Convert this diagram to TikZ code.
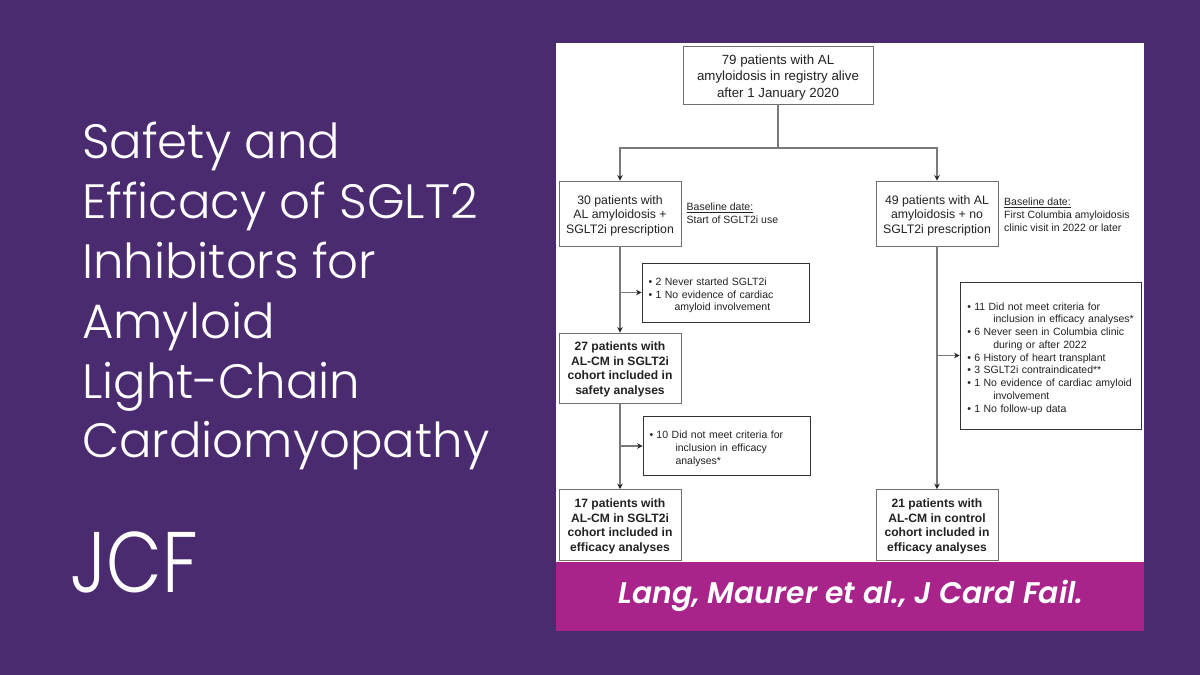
\documentclass[tikz,border=0pt]{standalone}
\usepackage{fontspec}
\setmainfont{Liberation Sans}
\newfontfamily\titlefont[UprightFont=* Light,BoldFont=* SemiBold,ItalicFont=* Light Italic,BoldItalicFont=* SemiBold Italic]{Poppins}
\usetikzlibrary{arrows.meta,calc}
\definecolor{bgpurple}{HTML}{4B2B70}
\definecolor{banner}{HTML}{A8248A}
\definecolor{linegray}{HTML}{707070}
\definecolor{conngray}{HTML}{7A7A7A}
\definecolor{textgray}{HTML}{222222}
\tikzset{
 x=1pt,y=-1pt,
 flowbox/.style={draw=linegray,line width=0.9pt,fill=white,inner sep=0pt,align=center,text=textgray},
 mainbox/.style={flowbox,text height=42.4pt,font=\fontsize{12.3}{14.7}\selectfont},
 topbox/.style={flowbox,text height=47.7pt,font=\fontsize{13.3}{16.5}\selectfont},
 boldbox/.style={flowbox,text height=55.3pt,font=\fontsize{12.1}{14.5}\selectfont\bfseries},
 exclbox/.style={draw=black!80,line width=0.9pt,fill=white,inner sep=0pt,text=textgray,text height=13.4pt,font=\fontsize{10.5}{12.75}\selectfont},
 note/.style={anchor=north west,inner sep=0pt,align=left,text=textgray,font=\fontsize{10.5}{12.7}\selectfont},
 conn/.style={draw=conngray,line width=1.1pt},
 arrowconn/.style={conn,-{Stealth[length=5.5pt,width=5.5pt,color=black!85]}},
 titletext/.style={anchor=base west,inner sep=0pt,text=white,font=\titlefont\fontsize{48.2}{60}\selectfont},
}
\newcommand{\bul}[1]{\makebox[7pt][l]{\textbullet}#1}
\newcommand{\cont}[1]{\hspace*{26pt}#1}
\begin{document}
\begin{tikzpicture}
\useasboundingbox (0,0) rectangle (1200,675);
\fill[bgpurple] (0,0) rectangle (1200,675);
\fill[white] (556,43) rectangle (1144,562);
\fill[banner] (556,562) rectangle (1144,631);

\node[titletext] (t1) at (82,158) {Safety and};
\node[titletext] (t2) at (82,218) {Efficacy of SGLT2};
\node[titletext] (t3) at (82,278) {Inhibitors for};
\node[titletext] (t4) at (82,338) {Amyloid};
\node[titletext] (t5) at (82,398) {Light-Chain};
\node[titletext] (t6) at (82,457) {Cardiomyopathy};
\node[anchor=base west,inner sep=0pt,text=white,font=\titlefont\fontsize{86}{90}\selectfont] (jcf) at (70.5,592) {\scalebox{0.84}[1]{JCF}};
\node[anchor=base,inner sep=0pt,text=white,font=\titlefont\fontsize{29.8}{32}\selectfont\bfseries\itshape] (cite) at (851,603) {Lang, Maurer et al., J Card Fail.};

\node[topbox,minimum width=190pt,minimum height=58pt] (top) at (778,75) {79 patients with AL\\amyloidosis in registry alive\\after 1 January 2020};
\node[mainbox,minimum width=122pt,minimum height=65pt] (left1) at (620,213.5) {30 patients with\\AL amyloidosis +\\SGLT2i prescription};
\node[mainbox,minimum width=122pt,minimum height=65pt] (right1) at (937,213.5) {49 patients with AL\\amyloidosis + no\\SGLT2i prescription};
\node[boldbox,minimum width=122pt,minimum height=70pt] (safety) at (620,368) {27 patients with\\AL-CM in SGLT2i\\cohort included in\\safety analyses};
\node[boldbox,minimum width=122pt,minimum height=71pt] (effl) at (620,525) {17 patients with\\AL-CM in SGLT2i\\cohort included in\\efficacy analyses};
\node[boldbox,minimum width=122pt,minimum height=71pt] (effr) at (937,525) {21 patients with\\AL-CM in control\\cohort included in\\efficacy analyses};

\node[exclbox,minimum width=167pt,minimum height=59pt,text width=154pt,align=left] (ex1) at (725.5,292.5) {\bul{2 Never started SGLT2i}\\\bul{1 No evidence of cardiac}\\\cont{amyloid involvement}};
\node[exclbox,minimum width=167pt,minimum height=59pt,text width=154pt,align=left] (ex2) at (726.5,446) {\bul{10 Did not meet criteria for}\\\cont{inclusion in efficacy}\\\cont{analyses*}};
\node[exclbox,minimum width=181.5pt,minimum height=147pt,text width=167pt,align=left] (ex3) at (1050.75,355.5) {\bul{11 Did not meet criteria for}\\\cont{inclusion in efficacy analyses*}\\\bul{6 Never seen in Columbia clinic}\\\cont{during or after 2022}\\\bul{6 History of heart transplant}\\\bul{3 SGLT2i contraindicated**}\\\bul{1 No evidence of cardiac amyloid}\\\cont{involvement}\\\bul{1 No follow-up data}};

\node[note] (n1) at (686.5,203) {\underline{Baseline date:}\\Start of SGLT2i use};
\node[note] (n2) at (1004,198) {\underline{Baseline date:}\\First Columbia amyloidosis\\clinic visit in 2022 or later};

\coordinate (split) at (top.south |- 0,148);
\coordinate (b1) at (left1.south |- ex1.west);
\coordinate (b2) at (left1.south |- ex2.west);
\coordinate (b3) at (right1.south |- ex3.west);
\draw[conn] (top.south) -- (split);
\draw[arrowconn] (split) -| (left1.north);
\draw[arrowconn] (split) -| (right1.north);
\draw[arrowconn] (left1.south) -- (safety.north);
\draw[arrowconn] (safety.south) -- (effl.north);
\draw[arrowconn] (right1.south) -- (effr.north);
\draw[arrowconn] (b1) -- (ex1.west);
\draw[arrowconn] (b2) -- (ex2.west);
\draw[arrowconn] (b3) -- (ex3.west);
\end{tikzpicture}
\end{document}
